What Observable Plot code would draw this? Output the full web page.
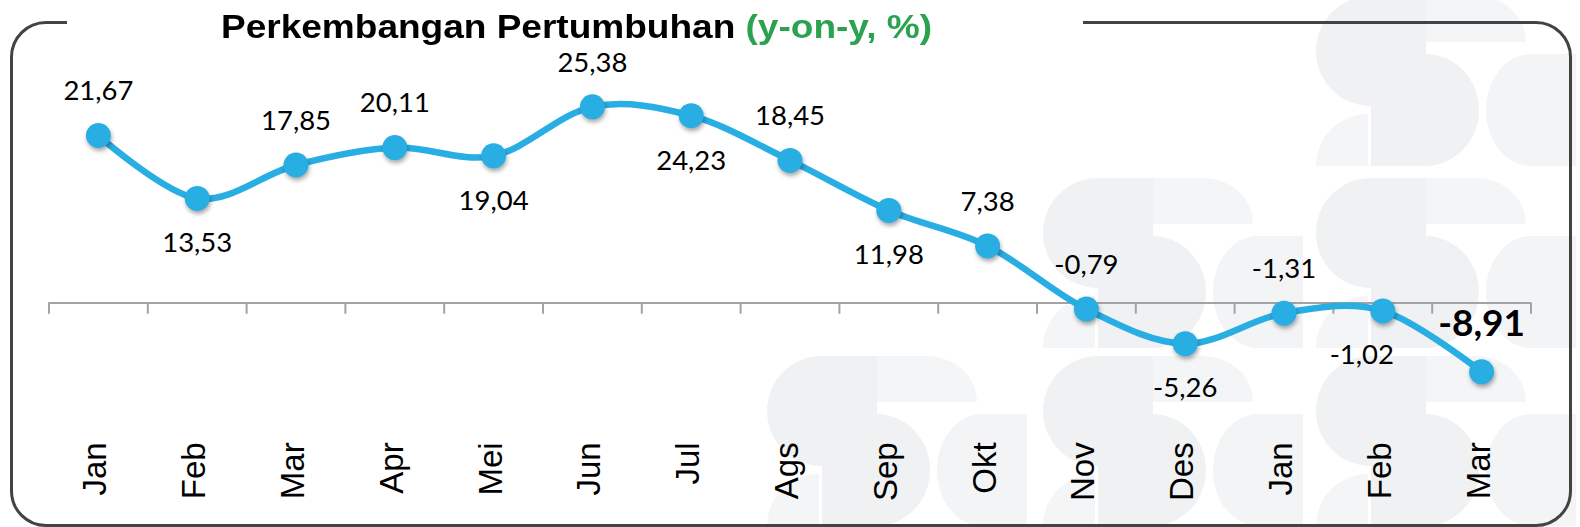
<!DOCTYPE html>
<html>
<head>
<meta charset="utf-8">
<script src="https://cdn.jsdelivr.net/npm/d3@7"></script>
<script src="https://cdn.jsdelivr.net/npm/@observablehq/plot@0.6"></script>
<style>
  html, body { margin: 0; padding: 0; background: #fff; }
  #wrap { position: relative; width: 1580px; height: 527px; overflow: hidden; background: #fff; }
  #wm { position: absolute; left: 0; top: 0; width: 1580px; height: 527px; }
  #wm div { position: absolute; }
  .frame { position: absolute; left: 9.5px; top: 20.5px; width: 1562px; height: 506px; box-sizing: border-box;
           border: 3px solid #434343; border-radius: 36px; }
  .gap { position: absolute; left: 67px; top: 17px; width: 1016px; height: 9px; background: #fff; }
  .title { position: absolute; left: 221px; top: 10px; font-family: "Liberation Sans", Arial, sans-serif;
           font-weight: bold; font-size: 33.5px; line-height: 33px; color: #000; white-space: nowrap;
           transform: scaleX(1.105); transform-origin: left top; }
  .title span { color: #2ba24f; }
  #chart { position: absolute; left: 0; top: 0; }
  #chart svg g[aria-label="dot"] circle { filter: drop-shadow(1.5px 3px 2px rgba(0,0,0,0.33)); }
</style>
</head>
<body>
<div id="wrap">
  <div id="wm"></div>
  <div class="frame"></div>
  <div class="gap"></div>
  <div class="title">Perkembangan Pertumbuhan <span>(y-on-y, %)</span></div>
  <div id="chart"></div>
</div>
<script>
// ---- data ----
const categories = ["Jan","Feb","Mar","Apr","Mei","Jun","Jul","Ags","Sep","Okt","Nov","Des","Jan","Feb","Mar"];
const values = [21.67, 13.53, 17.85, 20.11, 19.04, 25.38, 24.23, 18.45, 11.98, 7.38, -0.79, -5.26, -1.31, -1.02, -8.91];
const labelPos = ["above","below","above","above","below","above","below","above","below","above","above","below","above","below","above"];
const highlightIndex = 14;   // last value shown in bold
const shiftedIndex = 13;     // label nudged left

const fmt = v => v.toFixed(2).replace(".", ",");
const rows = categories.map((c, i) => ({i, c, v: values[i], pos: labelPos[i], label: fmt(values[i])}));
const boundaries = d3.range(categories.length + 1).map(k => k - 0.5);

// ---- decorative watermark (light grey S shapes) ----
const wmGlyphs = [[1316, -4], [1043, 178], [1316, 178], [767, 356], [1043, 356], [1316, 356]];
const wm = document.getElementById("wm");
function piece(x, y, w, h, radius, color) {
  const d = document.createElement("div");
  Object.assign(d.style, {left: x + "px", top: y + "px", width: w + "px", height: h + "px", borderRadius: radius, background: color});
  wm.appendChild(d);
}
for (const [x0, y0] of wmGlyphs) {
  piece(x0, y0, 110, 110, "55px 0 0 55px / 55px 0 0 55px", "#f0f1f3");
  piece(x0 + 55, y0 + 58, 108, 112, "0 54px 54px 0 / 0 56px 56px 0", "#f0f1f3");
  piece(x0 + 110, y0, 100, 46, "0 50px 0 0 / 0 46px 0 0", "#f4f5f6");
  piece(x0, y0 + 118, 52, 52, "52px 0 0 0", "#f4f5f6");
  piece(x0 + 170, y0 + 58, 90, 112, "45px 0 0 45px / 56px 0 0 56px", "#f3f4f6");
}

// ---- chart ----
const blue = "#29aee4";
const labelFont = "Lato, 'Open Sans', sans-serif";
const axisFont = "'Liberation Sans', Arial, sans-serif";

const chart = Plot.plot({
  width: 1580,
  height: 527,
  marginLeft: 48.5,
  marginRight: 49.5,
  marginTop: 70.6,
  marginBottom: 147.2,
  x: {type: "linear", domain: [-0.5, categories.length - 0.5], axis: null},
  y: {domain: [-10, 30], axis: null},
  style: {background: "transparent", overflow: "visible"},
  marks: [
    Plot.ruleY([0], {stroke: "#a3a3a3", strokeWidth: 2}),
    Plot.ruleX(boundaries, {x: d => d, y1: 0, y2: -1.45, stroke: "#a3a3a3", strokeWidth: 2}),
    Plot.line(rows, {x: "i", y: "v", curve: "cardinal", stroke: blue, strokeWidth: 6.5}),
    Plot.dot(rows, {x: "i", y: "v", r: 12.5, fill: blue, stroke: "none"}),
    Plot.text(rows.filter(d => d.pos === "above" && d.i !== highlightIndex), {
      x: "i", y: "v", text: "label", dy: -44, fontSize: 27.5, fontFamily: labelFont, fill: "#000"
    }),
    Plot.text(rows.filter(d => d.pos === "below" && d.i !== shiftedIndex), {
      x: "i", y: "v", text: "label", dy: 45, fontSize: 27.5, fontFamily: labelFont, fill: "#000"
    }),
    Plot.text(rows.filter(d => d.i === shiftedIndex), {
      x: "i", y: "v", text: "label", dy: 44, dx: -21, fontSize: 27.5, fontFamily: labelFont, fill: "#000"
    }),
    Plot.text(rows.filter(d => d.i === highlightIndex), {
      x: "i", y: "v", text: "label", dy: -48, fontSize: 37, fontWeight: "bold", fontFamily: labelFont, fill: "#000"
    }),
    Plot.text(rows, {
      x: "i", text: "c", frameAnchor: "bottom", dy: 62, dx: 8, rotate: -90, textAnchor: "end",
      fontSize: 33, fontFamily: axisFont, fill: "#000"
    })
  ]
});
document.getElementById("chart").appendChild(chart);
</script>
</body>
</html>
